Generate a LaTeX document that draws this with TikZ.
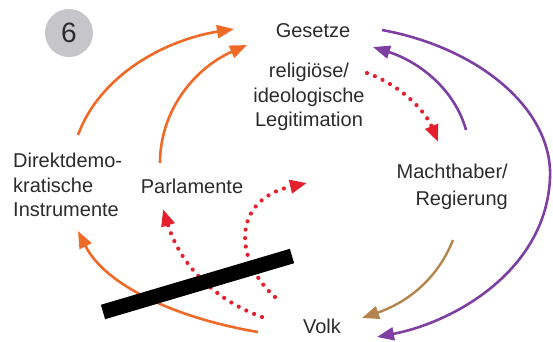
\documentclass[tikz,border=0pt]{standalone}
\usepackage{fontspec}
\setmainfont{Liberation Sans}
\usetikzlibrary{arrows.meta}
\definecolor{txt}{HTML}{2B2B2B}
\definecolor{orangec}{HTML}{EF6A26}
\definecolor{purplec}{HTML}{7E3FA3}
\definecolor{redc}{HTML}{E5202E}
\definecolor{brownc}{HTML}{B3844E}
\definecolor{badge}{HTML}{C6C6CA}
\begin{document}
\begin{tikzpicture}[x=1pt,y=-1pt,
  lbl/.style={text=txt,font=\fontsize{20}{24.5}\selectfont,inner sep=0pt},
  flow/.style={line width=2.6pt},
  head/.style={-{Triangle[length=17pt,width=13pt,fill=#1]}},
  dotflow/.style={draw=redc,line width=4.2pt,dash pattern=on 0pt off 8.5pt,
    line cap=round,-{Triangle[length=17pt,width=13pt,fill=redc]}}]
\useasboundingbox (0,0) rectangle (553,341);

% number badge
\node[circle,fill=badge,minimum size=48pt,inner sep=0pt,text=txt,
  font=\fontsize{28}{28}\selectfont] (badge) at (69,33) {6};

% labels
\node[lbl] (gesetze) at (313,31) {Gesetze};
\node[lbl,align=center] (legit) at (309,97) {religiöse/\\ideologische\\Legitimation};
\node[lbl,align=left,anchor=west] (direkt) at (13,185) {Direktdemo-\\kratische\\Instrumente};
\node[lbl] (parl) at (192,186) {Parlamente};
\node[lbl,align=right,anchor=east,font=\fontsize{20}{27}\selectfont] (macht) at (508,187) {Machthaber/\\Regierung};
\node[lbl] (volk) at (322,326) {Volk};

% connector end points
\coordinate (o1s) at (258,332);  \coordinate (o1e) at (78,231);
\coordinate (o2s) at (78,135);   \coordinate (o2e) at (234,29);
\coordinate (o3s) at (160,163);  \coordinate (o3e) at (247,45);
\coordinate (p1s) at (382,30);   \coordinate (p1m) at (550,178); \coordinate (p1e) at (377,337);
\coordinate (p2s) at (466,130);  \coordinate (p2e) at (373,47);
\coordinate (r1s) at (367,73);   \coordinate (r1e) at (438,142);
\coordinate (bs)  at (453,240);  \coordinate (be)  at (362,318);
\coordinate (r2s) at (262,317);  \coordinate (r2e) at (163,209);
\coordinate (r3s) at (275,297);  \coordinate (r3e) at (307,183);
\coordinate (bar1) at (103,312); \coordinate (bar2) at (292,256);

% orange: people towards instruments and laws
\draw[flow,draw=orangec,head=orangec]
  (o1s) .. controls (175,318) and (105,285) .. (o1e);
\draw[flow,draw=orangec,head=orangec]
  (o2s) .. controls (100,75) and (165,40) .. (o2e);
\draw[flow,draw=orangec,head=orangec]
  (o3s) .. controls (160,110) and (195,68) .. (o3e);

% purple: laws and rulers
\draw[flow,draw=purplec,head=purplec]
  (p1s) .. controls (480,48) and (553,110) .. (p1m)
        .. controls (546,270) and (455,322) .. (p1e);
\draw[flow,draw=purplec,head=purplec]
  (p2s) .. controls (455,90) and (420,62) .. (p2e);

% brown: rulers to people
\draw[flow,draw=brownc,line width=2.4pt,head=brownc]
  (bs) .. controls (435,285) and (400,305) .. (be);

% red dotted: legitimation
\draw[dotflow] (r1s) .. controls (400,85) and (425,110) .. (r1e);
\draw[dotflow] (r2s) .. controls (220,302) and (182,270) .. (r2e);
\draw[dotflow] (r3s) .. controls (235,262) and (230,200) .. (r3e);

% blocking bar
\draw[line width=15pt] (bar1) -- (bar2);
\end{tikzpicture}
\end{document}
